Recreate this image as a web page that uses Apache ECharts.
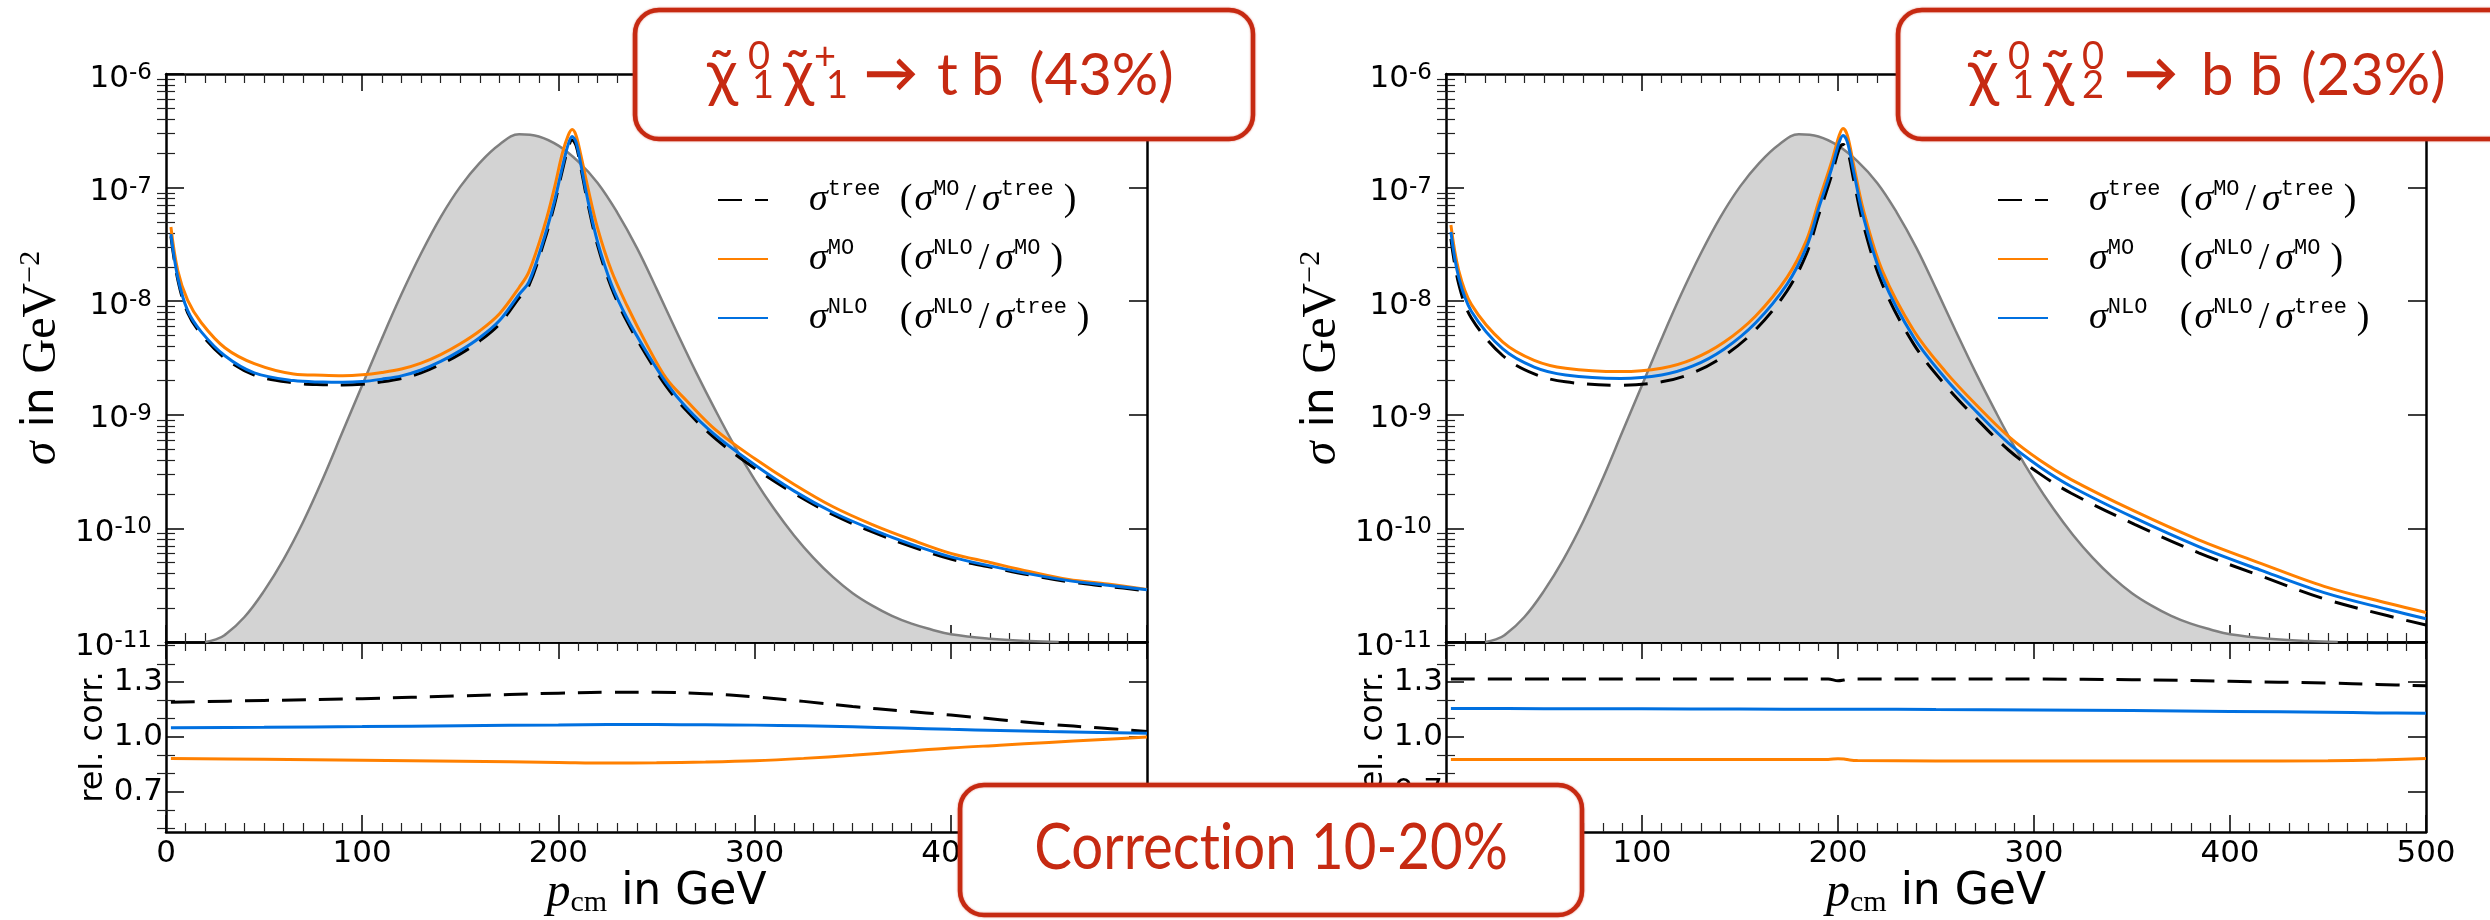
<!DOCTYPE html>
<html>
<head>
<meta charset="utf-8">
<script src="https://cdn.jsdelivr.net/npm/echarts@6/dist/echarts.min.js"></script>
<style>
  html, body { margin: 0; padding: 0; background: #fff; }
  #chart { width: 2490px; height: 920px; }
</style>
</head>
<body>
<div id="chart"></div>
<script>
// ---------- data: cross sections sigma(p_cm) in GeV^-2 ----------
// thermal momentum distribution (shaded), same in both panels
const P_DIST = [20, 25, 30, 40, 50, 60, 70, 80, 90, 100, 110, 120, 130, 140, 150, 160, 170, 180, 190, 200,
  210, 220, 230, 240, 250, 260, 270, 280, 290, 300, 310, 320, 330, 340, 350, 360, 370, 380, 390, 400, 420, 440, 455];
const DIST = [1.0e-11, 1.05e-11, 1.15e-11, 1.66e-11, 2.82e-11, 5.37e-11, 1.15e-10, 2.75e-10, 7.08e-10, 1.82e-9,
  4.68e-9, 1.15e-8, 2.63e-8, 5.50e-8, 1.02e-7, 1.66e-7, 2.40e-7, 2.95e-7, 2.82e-7, 2.34e-7,
  1.70e-7, 1.10e-7, 6.03e-8, 2.95e-8, 1.29e-8, 5.50e-9, 2.40e-9, 1.10e-9, 5.25e-10, 2.69e-10,
  1.48e-10, 8.71e-11, 5.50e-11, 3.72e-11, 2.69e-11, 2.09e-11, 1.70e-11, 1.45e-11, 1.29e-11, 1.17e-11,
  1.07e-11, 1.02e-11, 1.0e-11];

// chi1^0 chi1^+ -> t bbar
const P_TB = [2.5, 6, 11, 18, 30, 45, 65, 80, 90, 100, 110, 120, 130, 140, 150, 160, 170, 180, 185, 193,
  198, 202, 205, 207, 209, 211.5, 215, 220, 227, 235, 245, 255, 265, 280, 300, 320, 340, 360, 380, 400,
  420, 440, 460, 480, 500];
const TREE_TB = [3.72e-8, 1.55e-8, 7.94e-9, 5.13e-9, 3.16e-9, 2.24e-9, 1.91e-9, 1.84e-9, 1.83e-9, 1.86e-9,
  1.95e-9, 2.09e-9, 2.34e-9, 2.79e-9, 3.44e-9, 4.48e-9, 6.31e-9, 1.07e-8, 1.38e-8, 3.47e-8,
  7.08e-8, 1.41e-7, 2.24e-7, 2.63e-7, 2.34e-7, 1.48e-7, 7.24e-8, 3.09e-8, 1.32e-8, 6.61e-9,
  3.31e-9, 1.78e-9, 1.10e-9, 6.17e-10, 3.39e-10, 2.04e-10, 1.32e-10, 9.33e-11, 6.92e-11, 5.37e-11,
  4.57e-11, 3.89e-11, 3.39e-11, 3.09e-11, 2.82e-11];
const MO_TB = [4.5e-8, 1.86e-8, 1.02e-8, 6.46e-9, 3.89e-9, 2.82e-9, 2.29e-9, 2.23e-9, 2.21e-9, 2.25e-9,
  2.36e-9, 2.53e-9, 2.85e-9, 3.39e-9, 4.22e-9, 5.50e-9, 7.76e-9, 1.32e-8, 1.82e-8, 4.68e-8,
  1.0e-7, 2.0e-7, 2.88e-7, 3.24e-7, 2.88e-7, 1.91e-7, 1.0e-7, 4.37e-8, 1.86e-8, 9.12e-9,
  4.17e-9, 2.09e-9, 1.35e-9, 7.41e-10, 4.12e-10, 2.45e-10, 1.55e-10, 1.08e-10, 7.94e-11, 6.03e-11,
  5.01e-11, 4.17e-11, 3.55e-11, 3.24e-11, 2.9e-11];
const NLO_TB = [3.89e-8, 1.62e-8, 8.3e-9, 5.37e-9, 3.31e-9, 2.34e-9, 2.0e-9, 1.94e-9, 1.93e-9, 1.96e-9,
  2.06e-9, 2.20e-9, 2.48e-9, 2.95e-9, 3.67e-9, 4.79e-9, 6.76e-9, 1.15e-8, 1.48e-8, 3.72e-8,
  7.59e-8, 1.51e-7, 2.40e-7, 2.82e-7, 2.51e-7, 1.58e-7, 7.76e-8, 3.31e-8, 1.41e-8, 7.08e-9,
  3.55e-9, 1.91e-9, 1.17e-9, 6.61e-10, 3.63e-10, 2.14e-10, 1.38e-10, 9.77e-11, 7.24e-11, 5.62e-11,
  4.68e-11, 3.98e-11, 3.47e-11, 3.16e-11, 2.88e-11];

// chi1^0 chi2^0 -> b bbar
const P_BB = [2.5, 6.5, 13, 29, 45, 61, 89, 110, 126, 142, 158, 174, 184, 190, 196.8, 200.6, 202.6, 204.8, 208, 213,
  222.6, 238.7, 254.8, 271, 287, 303, 319, 351.6, 384, 416, 448, 480.6, 500];
const TREE_BB = [3.55e-8, 1.41e-8, 7.08e-9, 3.31e-9, 2.29e-9, 1.95e-9, 1.82e-9, 1.95e-9, 2.34e-9, 3.31e-9,
  5.62e-9, 1.23e-8, 2.63e-8, 5.62e-8, 1.29e-7, 2.19e-7, 2.40e-7, 2.14e-7, 1.17e-7, 4.68e-8,
  1.41e-8, 4.17e-9, 1.82e-9, 9.12e-10, 4.90e-10, 3.02e-10, 2.04e-10, 1.08e-10, 6.10e-11, 3.80e-11,
  2.40e-11, 1.70e-11, 1.41e-11];
const MO_BB = [4.68e-8, 1.86e-8, 9.33e-9, 4.37e-9, 3.02e-9, 2.57e-9, 2.40e-9, 2.57e-9, 3.09e-9, 4.37e-9,
  7.41e-9, 1.62e-8, 3.47e-8, 7.41e-8, 1.70e-7, 2.88e-7, 3.31e-7, 2.88e-7, 1.58e-7, 6.31e-8,
  1.86e-8, 5.50e-9, 2.40e-9, 1.20e-9, 6.46e-10, 3.98e-10, 2.69e-10, 1.41e-10, 7.94e-11, 4.90e-11,
  3.09e-11, 2.19e-11, 1.82e-11];
const NLO_BB = [4.07e-8, 1.62e-8, 8.13e-9, 3.80e-9, 2.63e-9, 2.24e-9, 2.09e-9, 2.24e-9, 2.69e-9, 3.80e-9,
  6.46e-9, 1.41e-8, 3.02e-8, 6.46e-8, 1.48e-7, 2.51e-7, 2.88e-7, 2.51e-7, 1.38e-7, 5.50e-8,
  1.62e-8, 4.79e-9, 2.09e-9, 1.05e-9, 5.62e-10, 3.47e-10, 2.34e-10, 1.23e-10, 6.92e-11, 4.27e-11,
  2.72e-11, 1.93e-11, 1.60e-11];

// relative corrections (lower panels)
const PR_TB = [2.5, 50, 100, 150, 200, 225, 250, 275, 300, 325, 350, 375, 400, 425, 450, 475, 500];
const R_MO_TREE_TB = [1.19, 1.20, 1.21, 1.225, 1.24, 1.245, 1.245, 1.237, 1.22, 1.195, 1.167, 1.143, 1.12, 1.095, 1.07, 1.05, 1.03];
const R_NLO_MO_TB = [0.882, 0.878, 0.873, 0.867, 0.861, 0.858, 0.859, 0.863, 0.87, 0.883, 0.90, 0.92, 0.94, 0.955, 0.97, 0.985, 1.0];
const R_NLO_TREE_TB = [1.05, 1.053, 1.057, 1.062, 1.066, 1.068, 1.068, 1.067, 1.065, 1.061, 1.056, 1.049, 1.042, 1.036, 1.03, 1.025, 1.02];

const PR_BB = [2.5, 50, 100, 150, 195, 200, 203, 206, 210, 250, 300, 350, 400, 450, 475, 500];
const R_MO_TREE_BB = [1.318, 1.318, 1.318, 1.318, 1.318, 1.308, 1.312, 1.318, 1.318, 1.318, 1.317, 1.314, 1.305, 1.295, 1.288, 1.28];
const R_NLO_MO_BB = [0.877, 0.877, 0.877, 0.877, 0.877, 0.881, 0.880, 0.874, 0.871, 0.869, 0.868, 0.868, 0.868, 0.870, 0.874, 0.882];
const R_NLO_TREE_BB = [1.156, 1.155, 1.154, 1.153, 1.152, 1.152, 1.152, 1.152, 1.152, 1.150, 1.148, 1.145, 1.14, 1.135, 1.132, 1.13];

// tick values
const SIGMA_MIN = 1e-11, SIGMA_MAX = 1e-6;
const DECADES = [-11, -10, -9, -8, -7, -6];
const DECADE_STEPS = [2, 3, 4, 5, 6, 7, 8, 9];
const RATIO_MAJOR = [0.7, 1.0, 1.3];
const RATIO_MINOR = [0.5, 0.6, 0.8, 0.9, 1.1, 1.2, 1.4, 1.5];

// legend wording: [superscript of the curve, numerator, denominator of the ratio]
const LEGEND_TEXT = {
  tree: ['tree', 'MO', 'tree'],
  MO: ['MO', 'NLO', 'MO'],
  NLO: ['NLO', 'NLO', 'tree']
};

// ---------- styling ----------
const SANS = 'DejaVu Sans';
const SERIF = 'Liberation Serif';
const MONO = 'Liberation Mono';
const TITLE_FONT = "Lato, 'DejaVu Sans'";
const RED = '#c62a12';
const ORANGE = '#ff8000';
const BLUE = '#0070e0';

const LOG_MINOR = [];
for (let i = 0; i < DECADES.length - 1; i++) {
  DECADE_STEPS.forEach(k => LOG_MINOR.push(DECADES[i] + Math.log10(k)));
}

const zip = (xs, ys) => xs.map((x, i) => [x, ys[i]]);

const axisLineStyle = { color: '#000', width: 2.5 };
const tickStyle = { color: '#000', width: 1.5 };
const minorStyle = { color: '#222', width: 1.2 };

const X_TITLE = '{p|p}{c|cm}{t| in GeV}';
const X_TITLE_RICH = {
  p: { fontFamily: SERIF, fontStyle: 'italic', fontSize: 48, lineHeight: 50, color: '#000' },
  c: { fontFamily: SERIF, fontSize: 30, lineHeight: 30, verticalAlign: 'bottom', color: '#000' },
  t: { fontFamily: SANS, fontSize: 44, lineHeight: 50, color: '#000' }
};
const Y_TITLE = '{s|σ}{t| in }{r|GeV}{e|\u22122}';
const Y_TITLE_RICH = {
  s: { fontFamily: SERIF, fontStyle: 'italic', fontSize: 48, lineHeight: 52, color: '#000' },
  t: { fontFamily: SANS, fontSize: 44, lineHeight: 52, color: '#000' },
  r: { fontFamily: SERIF, fontSize: 48, lineHeight: 52, color: '#000' },
  e: { fontFamily: SERIF, fontSize: 30, lineHeight: 32, verticalAlign: 'top', color: '#000' }
};

function xPair(g, labelled) {
  const base = {
    gridIndex: g, type: 'value', min: 0, max: 500, interval: 100,
    splitLine: { show: false }, minorSplitLine: { show: false },
    axisLine: { show: true, onZero: false, lineStyle: axisLineStyle },
    axisTick: { show: true, inside: true, length: 17, lineStyle: tickStyle },
    minorTick: { show: true, splitNumber: 10, length: 9, lineStyle: minorStyle }
  };
  const bottom = Object.assign({}, base, {
    position: 'bottom',
    axisLabel: labelled ? { show: true, margin: 6, fontSize: 31, fontFamily: SANS, color: '#000' } : { show: false },
    name: labelled ? X_TITLE : '', nameLocation: 'middle', nameGap: 36, nameMoveOverlap: false,
    nameTextStyle: { rich: X_TITLE_RICH }
  });
  const top = Object.assign({}, base, { position: 'top', axisLabel: { show: false } });
  return [bottom, top];
}

function logFormatter(v) {
  const e = Math.round(Math.log10(v));
  return '{b|10}{e|' + e + '}';
}

function sigmaAxes(g) {
  const common = {
    gridIndex: g, type: 'log', logBase: 10, min: SIGMA_MIN, max: SIGMA_MAX, splitNumber: 5,
    splitLine: { show: false },
    axisLine: { show: true, onZero: false, lineStyle: axisLineStyle },
    axisTick: { show: true, inside: true, length: 18, lineStyle: tickStyle }
  };
  const left = Object.assign({}, common, {
    position: 'left',
    axisLabel: {
      show: true, margin: 14, formatter: logFormatter, padding: [9, 0, 0, 0],
      rich: {
        b: { fontFamily: SANS, fontSize: 31, lineHeight: 34, color: '#000' },
        e: { fontFamily: SANS, fontSize: 23, lineHeight: 26, verticalAlign: 'top', color: '#000' }
      }
    },
    name: Y_TITLE, nameLocation: 'middle', nameGap: 98, nameRotate: 90, nameMoveOverlap: false,
    nameTextStyle: { rich: Y_TITLE_RICH }
  });
  const right = Object.assign({}, common, { position: 'right', axisLabel: { show: false } });
  const minor = pos => ({
    gridIndex: g, type: 'value', min: DECADES[0], max: DECADES[DECADES.length - 1], position: pos,
    splitLine: { show: false }, axisLine: { show: false }, axisLabel: { show: false },
    axisTick: { show: true, inside: true, length: 9, lineStyle: minorStyle, customValues: LOG_MINOR }
  });
  return [left, right, minor('left'), minor('right')];
}

function ratioAxes(g) {
  const common = {
    gridIndex: g, type: 'value', min: 0.48, max: 1.52,
    splitLine: { show: false },
    axisLine: { show: true, onZero: false, lineStyle: axisLineStyle },
    axisTick: { show: true, inside: true, length: 18, lineStyle: tickStyle, customValues: RATIO_MAJOR }
  };
  const left = Object.assign({}, common, {
    position: 'left',
    axisLabel: {
      show: true, margin: 3, customValues: RATIO_MAJOR, formatter: v => v.toFixed(1),
      fontFamily: SANS, fontSize: 31, color: '#000'
    },
    name: 'rel. corr.', nameLocation: 'middle', nameGap: 54, nameRotate: 90, nameMoveOverlap: false,
    nameTextStyle: { fontFamily: SANS, fontSize: 32, lineHeight: 36, color: '#000' }
  });
  const right = Object.assign({}, common, { position: 'right', axisLabel: { show: false } });
  const minor = pos => ({
    gridIndex: g, type: 'value', min: 0.48, max: 1.52, position: pos,
    splitLine: { show: false }, axisLine: { show: false }, axisLabel: { show: false },
    axisTick: { show: true, inside: true, length: 9, lineStyle: minorStyle, customValues: RATIO_MINOR }
  });
  return [left, right, minor('left'), minor('right')];
}

const LINE_STYLES = {
  tree: { color: '#000', width: 3, type: [24, 13] },
  MO: { color: ORANGE, width: 3 },
  NLO: { color: BLUE, width: 3 }
};

function curve(name, xi, yi, xs, ys) {
  return {
    type: 'line', name, xAxisIndex: xi, yAxisIndex: yi, data: zip(xs, ys),
    symbol: 'none', showSymbol: false, smooth: 0.35, clip: true, silent: true,
    color: LINE_STYLES[name].color, lineStyle: LINE_STYLES[name]
  };
}

function distSeries(xi, yi) {
  return {
    type: 'line', name: 'dist', xAxisIndex: xi, yAxisIndex: yi, data: zip(P_DIST, DIST),
    symbol: 'none', showSymbol: false, smooth: 0.4, clip: true, silent: true,
    color: '#7f7f7f', lineStyle: { color: '#7f7f7f', width: 2.5 },
    areaStyle: { color: '#d3d3d3', opacity: 1, origin: 'start' }
  };
}

function legendFormatter(name) {
  const t = LEGEND_TEXT[name];
  return '{g| }{s|σ}{m1|' + t[0] + '}{p|(}{s|σ}{m|' + t[1] + '}{sl|/}{s|σ}{m|' + t[2] + '}{q|)}';
}
const LEGEND_RICH = {
  g: { width: 36, lineHeight: 44 },
  s: { fontFamily: SERIF, fontStyle: 'italic', fontSize: 38, lineHeight: 44, color: '#000' },
  m1: { fontFamily: MONO, fontSize: 22, lineHeight: 28, verticalAlign: 'top', width: 72, color: '#000' },
  m: { fontFamily: MONO, fontSize: 22, lineHeight: 28, verticalAlign: 'top', color: '#000' },
  p: { fontFamily: SERIF, fontSize: 38, lineHeight: 44, color: '#000', padding: [0, 2, 0, 0] },
  sl: { fontFamily: SERIF, fontSize: 38, lineHeight: 44, color: '#000', padding: [0, 6, 0, 6] },
  q: { fontFamily: SERIF, fontSize: 38, lineHeight: 44, color: '#000', padding: [0, 0, 0, 10] }
};
function legendAt(left) {
  return {
    left, top: 173, orient: 'vertical', itemWidth: 50, itemHeight: 14, itemGap: 18,
    data: ['tree', 'MO', 'NLO'], selectedMode: false, formatter: legendFormatter,
    itemStyle: { opacity: 0 },
    textStyle: { rich: LEGEND_RICH }
  };
}

// ---------- red annotation boxes ----------
function box(x, y, w, h) {
  return [
    { type: 'rect', z: 100, silent: true, shape: { x, y, width: w, height: h, r: 24 },
      style: { fill: '#fff', stroke: RED, lineWidth: 4.5, shadowBlur: 2, shadowColor: 'rgba(198,42,18,0.6)' } },
    { type: 'rect', z: 100, silent: true, shape: { x: x + 1.5, y: y - 1, width: w - 2, height: h + 1.5, r: 24 },
      style: { fill: 'none', stroke: RED, lineWidth: 1.5, opacity: 0.55 } }
  ];
}
function word(text, x, y, size, opts) {
  const o = opts || {};
  return {
    type: 'text', z: 101, silent: true, x, y, scaleX: o.scaleX || 1,
    style: { text, fill: RED, fontFamily: TITLE_FONT, fontSize: size, fontWeight: o.weight || 'normal',
      align: o.align || 'left', verticalAlign: 'middle' }
  };
}
const CHI = '\u03c7\u0303';
const BBAR = 'b\u0304';

const graphics = [].concat(
  box(635, 10, 618, 129),
  [
    word(CHI, 707, 74, 64), word('0', 748, 57, 38), word('1', 752, 86, 38),
    word(CHI, 783, 74, 64), word('+', 814, 57, 38), word('1', 826, 86, 38),
    word('\u2192', 864, 75, 54, { weight: 'bold' }), word('t', 937, 76, 58), word(BBAR, 971, 76, 58),
    word('(43%)', 1029, 76, 58)
  ],
  box(1898, 10, 640, 129),
  [
    word(CHI, 1968, 74, 64), word('0', 2008, 57, 38), word('1', 2012, 86, 38),
    word(CHI, 2043, 74, 64), word('0', 2082, 57, 38), word('2', 2082, 86, 38),
    word('\u2192', 2124, 75, 54, { weight: 'bold' }), word('b', 2201, 76, 58), word(BBAR, 2250, 76, 58),
    word('(23%)', 2301, 76, 58)
  ],
  box(960, 785, 622, 130),
  [ word('Correct\u200cion 10-20%', 1271, 848, 64, { align: 'center', scaleX: 0.88 }) ]
);

// ---------- assemble ----------
const grids = [
  { left: 166, top: 74, width: 981, height: 568 },
  { left: 166, top: 642, width: 981, height: 190 },
  { left: 1446, top: 74, width: 980, height: 568 },
  { left: 1446, top: 642, width: 980, height: 190 }
].map(g => Object.assign(g, { containLabel: false, outerBoundsMode: 'none' }));

const xAxis = [].concat(xPair(0, false), xPair(1, true), xPair(2, false), xPair(3, true));
const yAxis = [].concat(sigmaAxes(0), ratioAxes(1), sigmaAxes(2), ratioAxes(3));

const series = [
  distSeries(0, 0),
  curve('tree', 0, 0, P_TB, TREE_TB),
  curve('MO', 0, 0, P_TB, MO_TB),
  curve('NLO', 0, 0, P_TB, NLO_TB),
  curve('tree', 2, 4, PR_TB, R_MO_TREE_TB),
  curve('MO', 2, 4, PR_TB, R_NLO_MO_TB),
  curve('NLO', 2, 4, PR_TB, R_NLO_TREE_TB),
  distSeries(4, 8),
  curve('tree', 4, 8, P_BB, TREE_BB),
  curve('MO', 4, 8, P_BB, MO_BB),
  curve('NLO', 4, 8, P_BB, NLO_BB),
  curve('tree', 6, 12, PR_BB, R_MO_TREE_BB),
  curve('MO', 6, 12, PR_BB, R_NLO_MO_BB),
  curve('NLO', 6, 12, PR_BB, R_NLO_TREE_BB)
];

const chart = echarts.init(document.getElementById('chart'), null, { renderer: 'canvas' });
chart.setOption({
  animation: false,
  backgroundColor: '#fff',
  grid: grids,
  xAxis, yAxis,
  legend: [legendAt(712), legendAt(1992)],
  series,
  graphic: { elements: graphics }
});
</script>
</body>
</html>
